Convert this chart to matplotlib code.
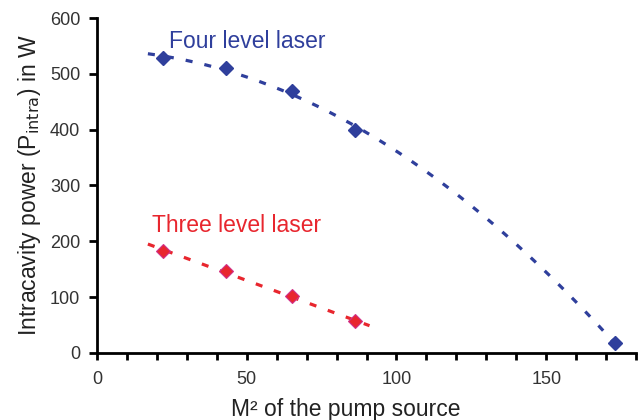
import numpy as np
import matplotlib.pyplot as plt
from matplotlib.ticker import MultipleLocator

plt.rcParams['font.family'] = ['Liberation Sans', 'DejaVu Sans']

# M^2 of the pump source and intracavity power (W)
m2_four = [22, 43, 65, 86, 173]
p_four = [528, 511, 469, 400, 17]
m2_three = [22, 43, 65, 86]
p_three = [183, 146, 101, 57]

blue = '#2f3f9c'
red = '#e8262e'

fig = plt.figure(figsize=(6.38, 4.2), dpi=100)
ax = fig.add_axes([0.152, 0.16, 0.845, 0.797])

# trend lines: quadratic for the four level laser, linear for the three level laser
c4 = np.polyfit(m2_four, p_four, 2)
x4 = np.linspace(17, 173, 200)
ax.plot(x4, np.polyval(c4, x4), color=blue, lw=2.3, dashes=(2.2, 3.8))
c3 = np.polyfit(m2_three, p_three, 1)
x3 = np.linspace(17, 91, 100)
ax.plot(x3, np.polyval(c3, x3), color=red, lw=2.3, dashes=(2.2, 3.8))

ax.plot(m2_four, p_four, 'D', color=blue, ms=7, ls='none')
ax.plot(m2_three, p_three, 'D', color=red, mec='#d0308a', mew=0.8, ms=7, ls='none')

ax.text(24, 558, 'Four level laser', color=blue, fontsize=16.5, va='center')
ax.text(18.5, 228, 'Three level laser', color=red, fontsize=16.5, va='center')

ax.set_xlim(0, 180)
ax.set_ylim(0, 600)
ax.xaxis.set_major_locator(MultipleLocator(50))
ax.xaxis.set_minor_locator(MultipleLocator(10))
ax.yaxis.set_major_locator(MultipleLocator(100))

for s in ['top', 'right']:
    ax.spines[s].set_visible(False)
for s in ['left', 'bottom']:
    ax.spines[s].set_linewidth(2)
ax.tick_params(which='both', direction='out', width=2, colors='black', labelcolor='#333333', labelsize=13)
ax.tick_params(axis='x', which='major', length=5, pad=8)
ax.tick_params(axis='x', which='minor', length=5)
ax.tick_params(axis='y', length=6, pad=6)

ax.set_xlabel('M² of the pump source', fontsize=16.5, color='#222222', labelpad=7, x=0.462)
ax.set_ylabel('Intracavity power (P$_{\\mathrm{intra}}$) in W', fontsize=16.5, color='#222222', labelpad=5)

fig.savefig('out.png', dpi=100)
